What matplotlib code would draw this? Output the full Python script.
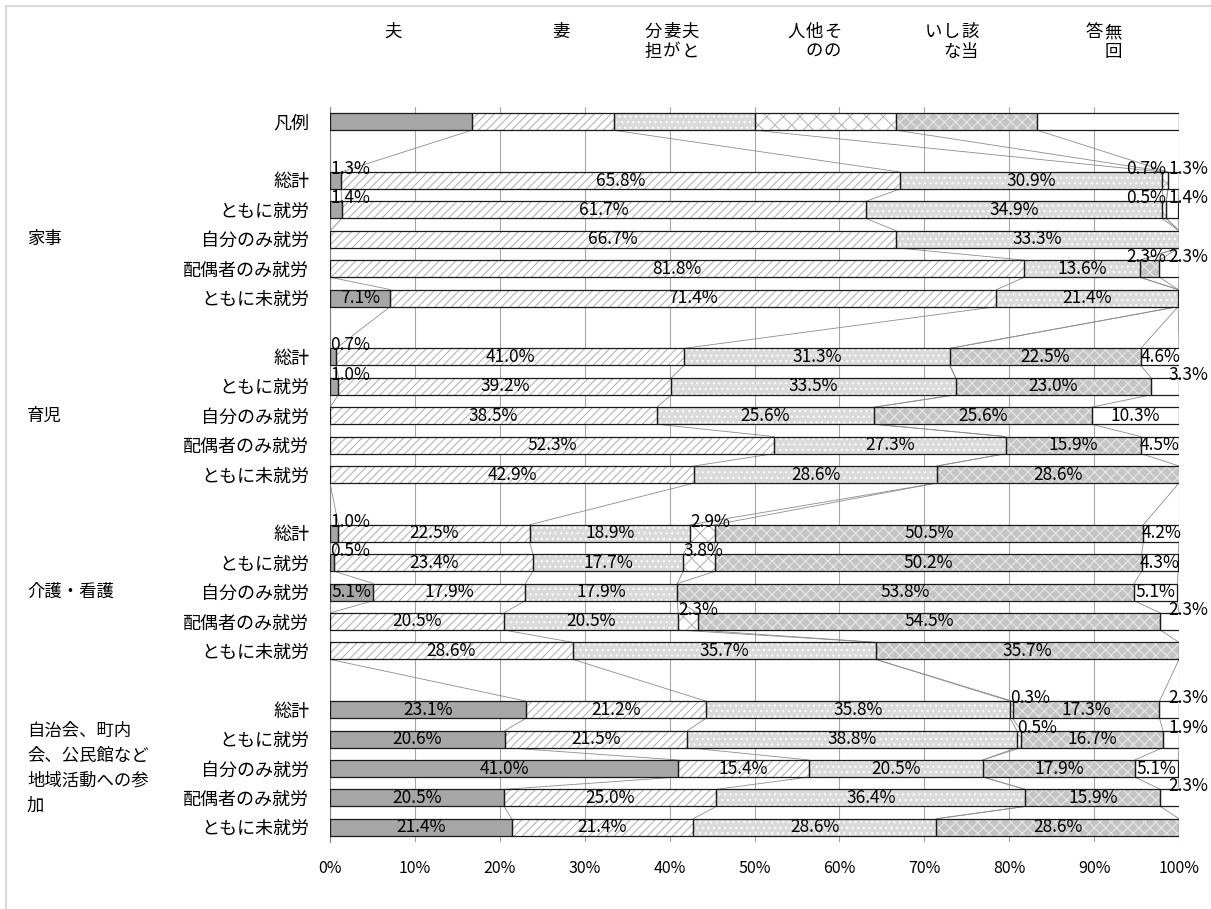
import numpy as np
import matplotlib.pyplot as plt
from matplotlib.patches import Rectangle
from matplotlib.transforms import blended_transform_factory

plt.rcParams['font.family'] = ['Noto Sans CJK JP', 'DejaVu Sans']
plt.rcParams['hatch.linewidth'] = 0.8

# answer categories (stacked left to right)
series_names = ['夫', '妻', '夫と妻が分担', 'その他の人', '該当しない', '無回答']
legend_label = '凡例'
legend_shares = [16.7, 16.7, 16.6, 16.7, 16.6, 16.7]

groups = ['家事', '育児', '介護・看護', '自治会、町内\n会、公民館など\n地域活動への参\n加']
subgroups = ['総計', 'ともに就労', '自分のみ就労', '配偶者のみ就労', 'ともに未就労']

# shares in % per subgroup: 夫, 妻, 分担, その他, 該当しない, 無回答
kaji = [
    [1.3, 65.8, 30.9, 0.7, 0.0, 1.3],
    [1.4, 61.7, 34.9, 0.5, 0.0, 1.4],
    [0.0, 66.7, 33.3, 0.0, 0.0, 0.0],
    [0.0, 81.8, 13.6, 0.0, 2.3, 2.3],
    [7.1, 71.4, 21.4, 0.0, 0.0, 0.0],
]
ikuji = [
    [0.7, 41.0, 31.3, 0.0, 22.5, 4.6],
    [1.0, 39.2, 33.5, 0.0, 23.0, 3.3],
    [0.0, 38.5, 25.6, 0.0, 25.6, 10.3],
    [0.0, 52.3, 27.3, 0.0, 15.9, 4.5],
    [0.0, 42.9, 28.6, 0.0, 28.6, 0.0],
]
kaigo = [
    [1.0, 22.5, 18.9, 2.9, 50.5, 4.2],
    [0.5, 23.4, 17.7, 3.8, 50.2, 4.3],
    [5.1, 17.9, 17.9, 0.0, 53.8, 5.1],
    [0.0, 20.5, 20.5, 2.3, 54.5, 2.3],
    [0.0, 28.6, 35.7, 0.0, 35.7, 0.0],
]
chiiki = [
    [23.1, 21.2, 35.8, 0.3, 17.3, 2.3],
    [20.6, 21.5, 38.8, 0.5, 16.7, 1.9],
    [41.0, 15.4, 20.5, 0.0, 17.9, 5.1],
    [20.5, 25.0, 36.4, 0.0, 15.9, 2.3],
    [21.4, 21.4, 28.6, 0.0, 28.6, 0.0],
]
group_values = [kaji, ikuji, kaigo, chiiki]

# fill style per series: face colour, hatch, hatch colour
styles = [
    ('#a6a6a6', None, '#a6a6a6'),
    ('white', '////', '#b4b4b4'),
    ('#dadada', '...', 'white'),
    ('white', 'xx', '#b8b8b8'),
    ('#c4c4c4', 'xxx', '#e8e8e8'),
    ('white', None, 'white'),
]

BAR_H = 0.58

fig = plt.figure(figsize=(12.11, 9.09), dpi=100)
ax = fig.add_axes([330 / 1211, 1 - 842 / 909, 849 / 1211, 735 / 909])

# row positions: legend, blank, 5 rows, blank, 5 rows ...
rows = [0]
row_values = [legend_shares]
tick_labels = [legend_label]
for g, vals in enumerate(group_values):
    for j, v in enumerate(vals):
        rows.append(2 + 6 * g + j)
        row_values.append(v)
        tick_labels.append(subgroups[j])

cums = []
for y, vals in zip(rows, row_values):
    left = 0.0
    edges = []
    for k, v in enumerate(vals):
        if v > 0:
            face, hatch, hcol = styles[k]
            ax.barh(y, v, left=left, height=BAR_H, color=face, hatch=hatch,
                    edgecolor=hcol, linewidth=0, zorder=2)
            ax.barh(y, v, left=left, height=BAR_H, fill=False,
                    edgecolor='#1a1a1a', linewidth=0.9, zorder=3)
        left += v
        edges.append(left)
    cums.append(edges)

# series lines between consecutive bars
for i in range(len(rows) - 1):
    y1, y2 = rows[i], rows[i + 1]
    for k in range(len(series_names)):
        x1 = min(cums[i][k], 100)
        x2 = min(cums[i + 1][k], 100)
        ax.plot([x1, x2], [y1 + BAR_H / 2, y2 - BAR_H / 2], color='#8c8c8c',
                lw=0.6, zorder=1.5)

# value labels (skip legend row); narrow segments get their label above the bar
num_font = dict(family=['Liberation Sans Narrow', 'Noto Sans CJK JP'], size=12.5)
for y, vals in zip(rows[1:], row_values[1:]):
    last = max(k for k, v in enumerate(vals) if v > 0)
    left = 0.0
    for k, v in enumerate(vals):
        if v <= 0:
            continue
        txt = f'{v:.1f}%'
        if v >= 4:
            ax.text(left + v / 2, y, txt, ha='center', va='center', zorder=5, **num_font)
        else:
            ty = y - BAR_H / 2 + 0.07
            if k == last:
                ax.text(98.8, ty, txt, ha='left', va='baseline', zorder=5, **num_font)
            elif left > 94.5:
                ax.text(98.5, ty, txt, ha='right', va='baseline', zorder=5, **num_font)
            else:
                ax.text(left, ty, txt, ha='left', va='baseline', zorder=5, **num_font)
        left += v

ax.set_xlim(0, 100)
ax.set_ylim(24.5, -0.5)
ax.set_xticks(np.arange(0, 101, 10))
ax.set_xticklabels([f'{t}%' for t in range(0, 101, 10)], fontsize=11.5)
ax.set_yticks(rows)
ax.set_yticklabels(tick_labels, fontsize=13)
ax.tick_params(axis='x', length=0, pad=13)
ax.tick_params(axis='y', length=0, pad=15)
ax.xaxis.grid(True, color='#a6a6a6', lw=0.8)
ax.set_axisbelow(True)
for side in ['top', 'right', 'bottom']:
    ax.spines[side].set_visible(False)
ax.spines['left'].set_color('#808080')

# group names on the far left
tr = blended_transform_factory(fig.transFigure, ax.transData)
for g, name in enumerate(groups):
    ax.text(27 / 1211, 2 + 6 * g + 2, name, transform=tr, ha='left', va='center',
            fontsize=12.5, linespacing=1.5)

# vertical series headers, columns read right to left
head_tr = blended_transform_factory(ax.transData, fig.transFigure)
head_right = [7.4, 27.2, 42.4, 59.2, 75.4, 92.2]
for name, xr in zip(series_names, head_right):
    cols = [name[i:i + 2] for i in range(0, len(name), 2)]
    for c, col in enumerate(cols):
        for r, ch in enumerate(col):
            ax.text(xr - 2.15 * c, 1 - (32 + 20 * r) / 909, ch, transform=head_tr,
                    ha='center', va='center', fontsize=12.5, clip_on=False)

# light chart frame
fig.patches.append(Rectangle((6 / 1211, -0.1), 1.2, 1 - 6 / 909 + 0.1,
                             transform=fig.transFigure, fill=False,
                             edgecolor='#d9d9d9', lw=1.5))

fig.savefig('out.png', dpi=100)
